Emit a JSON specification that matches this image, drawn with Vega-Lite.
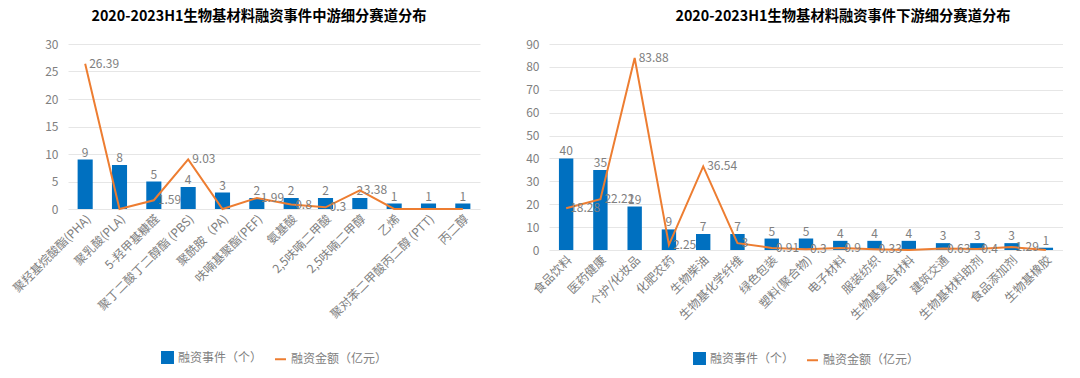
{
  "$schema": "https://vega.github.io/schema/vega-lite/v6.json",
  "background": "white",
  "padding": {"left": 10, "top": 9, "right": 0, "bottom": 0},
  "config": {
    "font": "Noto Sans CJK SC",
    "view": {"stroke": null},
    "axis": {"labelColor": "#808080", "labelFontSize": 12, "labelFont": "Noto Sans CJK SC", "gridColor": "#E6E6E6", "domain": false, "ticks": false},
    "title": {"fontSize": 14.3, "fontWeight": "bold", "color": "#000000", "font": "Noto Sans CJK SC"},
    "legend": {"labelFont": "Noto Sans CJK SC", "labelFontSize": 12, "labelColor": "#808080", "layout": {"bottom": {"anchor": "middle"}}},
    "concat": {"spacing": 45}
  },
  "datasets": {
    "mid": [
      {"name": "聚羟基烷酸酯(PHA)", "count": 9, "amount": 26.39},
      {"name": "聚乳酸(PLA)", "count": 8, "amount": 0},
      {"name": "5-羟甲基糠醛", "count": 5, "amount": 1.59},
      {"name": "聚丁二酸丁二醇酯 (PBS)", "count": 4, "amount": 9.03},
      {"name": "聚酰胺（PA)", "count": 3, "amount": 0},
      {"name": "呋喃基聚酯(PEF)", "count": 2, "amount": 1.99},
      {"name": "氨基酸", "count": 2, "amount": 0.8},
      {"name": "2,5呋喃二甲酸", "count": 2, "amount": 0.3},
      {"name": "2,5呋喃二甲醇", "count": 2, "amount": 3.38},
      {"name": "乙烯", "count": 1, "amount": 0},
      {"name": "聚对苯二甲酸丙二醇 (PTT)", "count": 1, "amount": 0},
      {"name": "丙二醇", "count": 1, "amount": 0}
    ],
    "down": [
      {"name": "食品饮料", "count": 40, "amount": 18.28},
      {"name": "医药健康", "count": 35, "amount": 22.22},
      {"name": "个护/化妆品", "count": 19, "amount": 83.88},
      {"name": "化肥农药", "count": 9, "amount": 2.25},
      {"name": "生物柴油", "count": 7, "amount": 36.54},
      {"name": "生物基化学纤维", "count": 7, "amount": 3},
      {"name": "绿色包装", "count": 5, "amount": 0.91},
      {"name": "塑料(聚合物)", "count": 5, "amount": 0.3},
      {"name": "电子材料", "count": 4, "amount": 0.9},
      {"name": "服装纺织", "count": 4, "amount": 0.33},
      {"name": "生物基复合材料", "count": 4, "amount": 0},
      {"name": "建筑交通", "count": 3, "amount": 0.63},
      {"name": "生物基材料助剂", "count": 3, "amount": 0.4},
      {"name": "食品添加剂", "count": 3, "amount": 1.29},
      {"name": "生物基橡胶", "count": 1, "amount": 0}
    ]
  },
  "resolve": {"scale": {"color": "independent"}, "legend": {"color": "independent"}},
  "hconcat": [
    {
      "title": {"text": "2020-2023H1生物基材料融资事件中游细分赛道分布", "dx": -15, "offset": 14},
      "width": 412,
      "height": 165,
      "data": {"name": "mid"},
      "encoding": {
        "x": {"field": "name", "type": "nominal", "sort": null, "title": null,
              "axis": {"labelAngle": -45, "grid": false, "labelPadding": 4},
              "scale": {"paddingInner": 0.56, "paddingOuter": 0.28}}
      },
      "layer": [
        {
          "mark": {"type": "bar", "color": "#0070C0"},
          "encoding": {
            "y": {"field": "count", "type": "quantitative", "title": null,
                  "scale": {"domain": [0, 30]},
                  "axis": {"values": [0, 5, 10, 15, 20, 25, 30], "labelPadding": 10, "labelOverlap": false}},
            "color": {"datum": "融资事件（个）",
                      "scale": {"domain": ["融资事件（个）", "融资金额（亿元）"], "range": ["#0070C0", "#ED7D31"]},
                      "legend": {"orient": "bottom", "title": null, "direction": "horizontal", "offset": 30, "symbolSize": 120, "columnPadding": 8,
                                 "encode": {"symbols": {"update": {
                                   "shape": {"signal": "datum.value === '融资事件（个）' ? 'square' : 'stroke'"},
                                   "fill": {"signal": "datum.value === '融资事件（个）' ? '#0070C0' : 'transparent'"},
                                   "stroke": {"signal": "datum.value === '融资事件（个）' ? 'transparent' : '#ED7D31'"},
                                   "strokeWidth": {"value": 2}}}}}}
          }
        },
        {
          "mark": {"type": "text", "dy": -7, "color": "#808080", "fontSize": 12},
          "encoding": {"y": {"field": "count", "type": "quantitative", "title": null, "axis": {"values": [0, 5, 10, 15, 20, 25, 30], "labelPadding": 10, "labelOverlap": false}}, "text": {"field": "count", "type": "nominal"}}
        },
        {
          "mark": {"type": "line", "strokeWidth": 2},
          "encoding": {"y": {"field": "amount", "type": "quantitative", "title": null, "axis": {"values": [0, 5, 10, 15, 20, 25, 30], "labelPadding": 10, "labelOverlap": false}}, "color": {"datum": "融资金额（亿元）"}}
        },
        {
          "transform": [{"filter": "datum.amount > 0"}],
          "mark": {"type": "text", "align": "left", "baseline": "middle", "dx": 4, "color": "#808080", "fontSize": 12},
          "encoding": {"y": {"field": "amount", "type": "quantitative", "title": null, "axis": {"values": [0, 5, 10, 15, 20, 25, 30], "labelPadding": 10, "labelOverlap": false}}, "text": {"field": "amount", "type": "nominal"}}
        }
      ]
    },
    {
      "title": {"text": "2020-2023H1生物基材料融资事件下游细分赛道分布", "dx": 37, "offset": 14},
      "width": 514,
      "height": 206,
      "data": {"name": "down"},
      "encoding": {
        "x": {"field": "name", "type": "nominal", "sort": null, "title": null,
              "axis": {"labelAngle": -45, "grid": false, "labelPadding": 4},
              "scale": {"paddingInner": 0.58, "paddingOuter": 0.29}}
      },
      "layer": [
        {
          "mark": {"type": "bar", "color": "#0070C0"},
          "encoding": {
            "y": {"field": "count", "type": "quantitative", "title": null,
                  "scale": {"domain": [0, 90]},
                  "axis": {"values": [0, 10, 20, 30, 40, 50, 60, 70, 80, 90], "labelPadding": 10, "labelOverlap": false}},
            "color": {"datum": "融资事件（个）",
                      "scale": {"domain": ["融资事件（个）", "融资金额（亿元）"], "range": ["#0070C0", "#ED7D31"]},
                      "legend": {"orient": "bottom", "title": null, "direction": "horizontal", "offset": 30, "symbolSize": 120, "columnPadding": 8,
                                 "encode": {"symbols": {"update": {
                                   "shape": {"signal": "datum.value === '融资事件（个）' ? 'square' : 'stroke'"},
                                   "fill": {"signal": "datum.value === '融资事件（个）' ? '#0070C0' : 'transparent'"},
                                   "stroke": {"signal": "datum.value === '融资事件（个）' ? 'transparent' : '#ED7D31'"},
                                   "strokeWidth": {"value": 2}}}}}}
          }
        },
        {
          "mark": {"type": "text", "dy": -7, "color": "#808080", "fontSize": 12},
          "encoding": {"y": {"field": "count", "type": "quantitative", "title": null, "axis": {"values": [0, 10, 20, 30, 40, 50, 60, 70, 80, 90], "labelPadding": 10, "labelOverlap": false}}, "text": {"field": "count", "type": "nominal"}}
        },
        {
          "mark": {"type": "line", "strokeWidth": 2},
          "encoding": {"y": {"field": "amount", "type": "quantitative", "title": null, "axis": {"values": [0, 10, 20, 30, 40, 50, 60, 70, 80, 90], "labelPadding": 10, "labelOverlap": false}}, "color": {"datum": "融资金额（亿元）"}}
        },
        {
          "transform": [{"filter": "datum.amount > 0"}],
          "mark": {"type": "text", "align": "left", "baseline": "middle", "dx": 4, "color": "#808080", "fontSize": 12},
          "encoding": {"y": {"field": "amount", "type": "quantitative", "title": null, "axis": {"values": [0, 10, 20, 30, 40, 50, 60, 70, 80, 90], "labelPadding": 10, "labelOverlap": false}}, "text": {"field": "amount", "type": "nominal"}}
        }
      ]
    }
  ]
}
